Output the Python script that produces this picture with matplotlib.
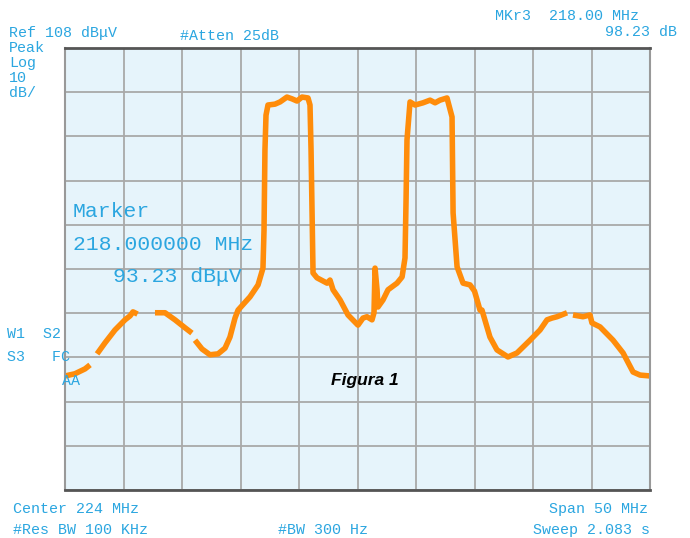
import matplotlib
matplotlib.use("Agg")
import matplotlib.pyplot as plt
import numpy as np

# spectrum analyzer settings
center_mhz = 224
span_mhz = 50
ref_level = 108
db_per_div = 10

# trace (MHz, dBuV); nan = gap in the drawn trace
freq_mhz = [199.0, 199.85, 200.71, 201.14, np.nan,
            201.74, 202.42, 203.27, 204.13, 204.56, 204.81, 205.2, np.nan,
            206.69, 207.55, 208.40, 209.26, 209.85, np.nan,
            210.11, 210.71, 211.39, 212.08, 212.68, 213.10, 213.53, 213.79,
            214.81, 215.50, 215.92, 216.01, 216.09, 216.18, 216.35, 216.95,
            217.38, 217.97, 218.40, 218.83, 219.26, 219.77, 219.94, 220.03,
            220.20, 220.54, 221.40, 221.65, 221.91, 222.51, 223.19, 224.04,
            224.47, 224.81, 225.24, 225.41, 225.50, 225.67, 225.75, 226.18,
            226.61, 227.38, 227.81, 228.06, 228.15, 228.23, 228.49, 228.92,
            229.60, 230.20, 230.63, 231.05, 231.65, 232.08, 232.17, 232.51,
            233.02, 233.62, 234.0, 234.22, 234.47, 234.64, 235.32, 235.92,
            236.86, 237.63, 238.75, 239.60, 240.20, 240.62, 241.05, 241.91, np.nan,
            242.42, 243.27, 243.87, 244.04, 244.73, 245.84, 246.70, 247.55,
            248.15, 249.0]
level_dbuv = [33.8, 34.3, 35.4, 36.3, np.nan,
              38.8, 41.3, 44.2, 46.5, 47.4, 48.3, 47.8, np.nan,
              48.1, 48.1, 46.5, 44.7, 43.5, np.nan,
              41.9, 39.9, 38.6, 38.8, 40.1, 42.6, 46.9, 48.7,
              51.7, 54.4, 58.2, 66.8, 84.9, 92.8, 95.1, 95.3,
              95.8, 96.9, 96.5, 96.0, 96.9, 96.7, 95.1, 84.9,
              57.1, 56.0, 54.8, 55.5, 53.3, 51.0, 47.6, 45.3,
              46.9, 47.2, 46.5, 48.1, 58.2, 53.3, 49.4, 51.0,
              53.3, 54.8, 56.2, 60.5, 73.6, 87.2, 95.8, 95.1,
              95.6, 96.2, 95.6, 96.2, 96.7, 92.4, 70.7, 58.5,
              54.8, 54.4, 53.0, 51.0, 48.7, 48.7, 42.6, 39.7,
              38.1, 39.0, 41.9, 44.2, 46.5, 46.9, 47.2, 48.1, np.nan,
              47.6, 47.2, 47.6, 45.8, 44.9, 41.9, 39.0, 34.7,
              34.0, 33.8]

text_blue = "#2ba6e0"
trace_color = "#ff8c0a"
mono = "Liberation Mono"

fig = plt.figure(figsize=(6.9, 5.38), dpi=100)
ax = fig.add_axes([65 / 690, 1 - 490 / 538, 585 / 690, 442 / 538])
ax.set_facecolor("#e6f4fb")

f_start = center_mhz - span_mhz / 2
f_stop = center_mhz + span_mhz / 2
ax.set_xlim(f_start, f_stop)
ax.set_ylim(ref_level - 10 * db_per_div, ref_level)
ax.set_xticks(np.arange(f_start, f_stop + 0.1, span_mhz / 10))
ax.set_yticks(np.arange(ref_level - 10 * db_per_div, ref_level + 1, db_per_div))
ax.tick_params(length=0, labelbottom=False, labelleft=False)
ax.grid(True, color="#a9a9a9", linewidth=1.3)
for side in ["left", "right"]:
    ax.spines[side].set_color("#999999")
    ax.spines[side].set_linewidth(1.5)
for side in ["top", "bottom"]:
    ax.spines[side].set_color("#555555")
    ax.spines[side].set_linewidth(2)

ax.plot(freq_mhz, level_dbuv, color=trace_color, linewidth=4.0,
        solid_joinstyle="round", solid_capstyle="butt", clip_on=True)

def px_text(x, y, s, size=10.8, ha="left", **kw):
    kw.setdefault("color", text_blue)
    kw.setdefault("family", mono)
    fig.text(x / 690, 1 - y / 538, s, fontsize=size, ha=ha, va="center", **kw)

px_text(9, 33, "Ref 108 dB\u03bcV")
px_text(9, 48, "Peak")
px_text(9, 63, "Log")
px_text(9, 78, "10")
px_text(9, 93, "dB/")
px_text(180, 36, "#Atten 25dB")
px_text(495, 16, "MKr3  218.00 MHz")
px_text(605, 32, "98.23 dB")
px_text(7, 334, "W1  S2")
px_text(7, 357, "S3   FC")
px_text(62, 381, "AA")
px_text(73, 212, "Marker", size=15.4)
px_text(73, 244, "218.000000 MHz", size=15.4)
px_text(113, 276, "93.23 dB\u03bcV", size=15.4)
px_text(13, 509, "Center 224 MHz")
px_text(13, 530, "#Res BW 100 KHz")
px_text(278, 530, "#BW 300 Hz")
px_text(648, 509, "Span 50 MHz", ha="right")
px_text(650, 530, "Sweep 2.083 s", ha="right")
px_text(365, 381, "Figura 1", size=12.5, ha="center", color="black",
        family="Liberation Sans", weight="bold", style="italic")

fig.savefig("out.png", dpi=100)
